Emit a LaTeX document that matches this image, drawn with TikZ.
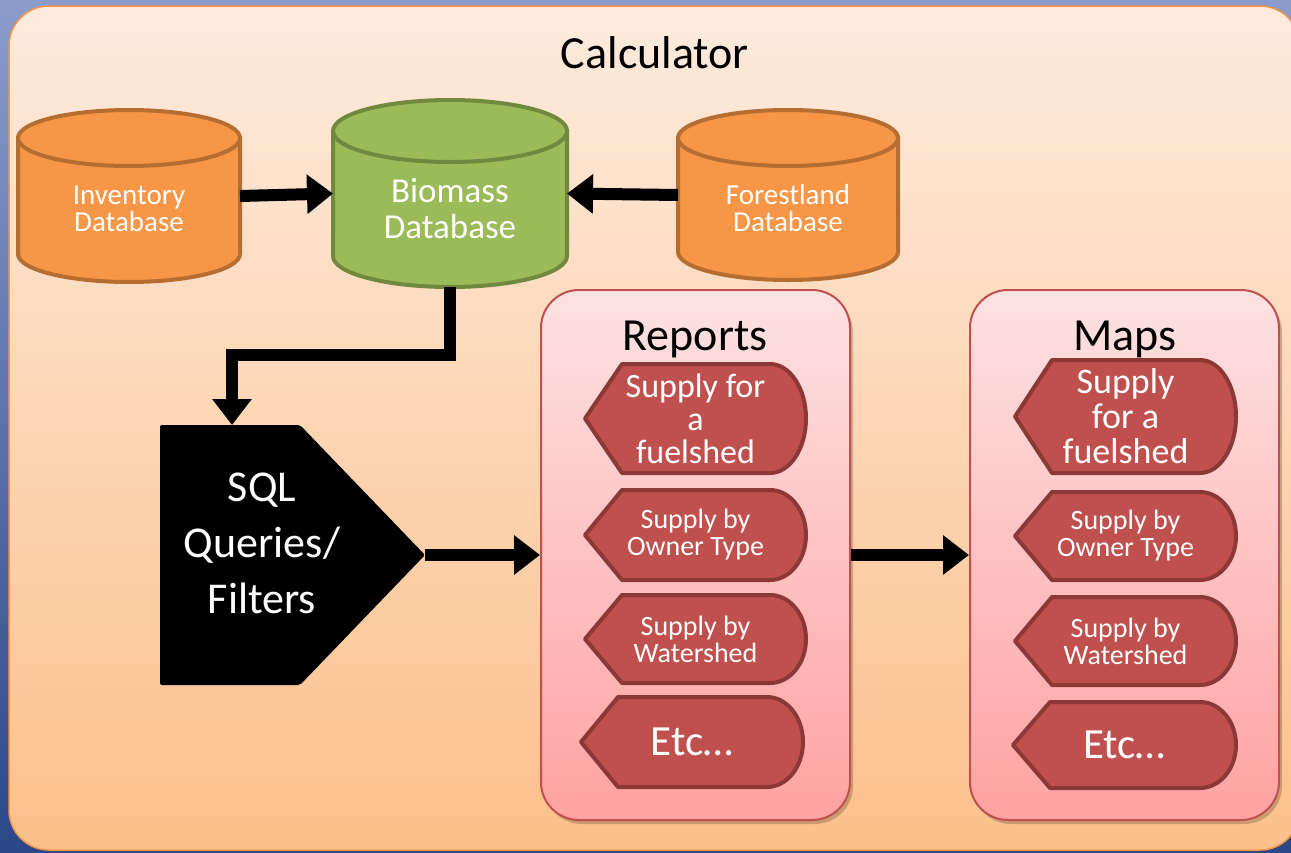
\documentclass[tikz,border=0pt]{standalone}
\usepackage{fontspec}
\setmainfont{Carlito}
\usetikzlibrary{arrows.meta,shadows}
\definecolor{bgtop}{HTML}{8B9CCC}
\definecolor{bgbot}{HTML}{2C4888}
\definecolor{paneltop}{HTML}{FDEBDD}
\definecolor{panelbot}{HTML}{FCC08B}
\definecolor{panelline}{HTML}{F79646}
\definecolor{orfill}{HTML}{F79646}
\definecolor{orline}{HTML}{B66D31}
\definecolor{grfill}{HTML}{9BBB59}
\definecolor{grline}{HTML}{71893F}
\definecolor{boxtop}{HTML}{FDE2E2}
\definecolor{boxbot}{HTML}{FFA2A2}
\definecolor{boxline}{HTML}{C0504D}
\definecolor{dispfill}{HTML}{C0504D}
\definecolor{displine}{HTML}{8C3836}
\tikzset{
  hit/.style={rectangle,draw=none,inner sep=0pt,outer sep=0pt},
  wtxt/.style={text=white,align=center,inner sep=0pt},
  btxt/.style={text=black,align=center,inner sep=0pt},
  arr/.style={draw=black,line width=12pt,line join=miter,-{Triangle[length=26pt,width=38pt]}},
  dispstyle/.style={fill=dispfill,draw=displine,line width=4pt,line join=round},
  container/.style={rectangle,rounded corners=38pt,draw=boxline,line width=2pt,top color=boxtop,bottom color=boxbot,inner sep=0pt,
    drop shadow={shadow xshift=3pt,shadow yshift=-4pt,opacity=0.2,fill=black}},
}
\newcommand\cyl[7]{%
  \path[fill=#6,draw=#7,line width=4pt] (#1,#3+#5) -- (#1,#4-#5) arc[start angle=180,end angle=0,x radius={(#2-#1)/2},y radius=#5] -- (#2,#3+#5) -- cycle;
  \path[fill=#6,draw=#7,line width=4pt] ({(#1+#2)/2},#3+#5) ellipse[x radius={(#2-#1)/2},y radius=#5];
}
\newcommand\disp[8]{%
  \path[dispstyle] (#2,{(#4+#5)/2}) -- (#2+37,#4) -- (#3-36,#4) arc[start angle=-90,end angle=90,x radius=36,y radius={(#5-#4)/2}] -- (#2+37,#5) -- cycle;
  \node[wtxt,font=\fontsize{#6}{#7}\selectfont] (#1) at ({(#2+#3)/2},{(#4+#5)/2}) {#8};
}
\begin{document}
\begin{tikzpicture}[x=1pt,y=-1pt]
\useasboundingbox (0,0) rectangle (1291,852);
\shade[top color=bgtop,bottom color=bgbot] (0,0) rectangle (1291,852);
% main panel
\node[rectangle,rounded corners=40pt,draw=panelline,line width=1.5pt,top color=paneltop,bottom color=panelbot,
  minimum width=1291pt,minimum height=844pt,inner sep=0pt] (calc) at (654.5,428) {};
\node[btxt,font=\fontsize{46}{50}\selectfont] (calct) at (655,53) {Calculator};

% cylinders
\cyl{18}{240}{110}{282}{28}{orfill}{orline}
\node[hit,minimum width=222pt,minimum height=172pt] (inv) at (129,196) {};
\node[wtxt,font=\fontsize{29}{27}\selectfont] (invt) at (129,209) {Inventory\\Database};

\cyl{333}{567}{100}{287}{31}{grfill}{grline}
\node[hit,minimum width=234pt,minimum height=187pt] (bio) at (450,193.5) {};
\node[wtxt,font=\fontsize{35}{36}\selectfont] (biot) at (450,209) {Biomass\\Database};

\cyl{678}{898}{110}{280}{28}{orfill}{orline}
\node[hit,minimum width=220pt,minimum height=170pt] (for) at (788,195) {};
\node[wtxt,font=\fontsize{29}{27}\selectfont] (fort) at (788,208) {Forestland\\Database};

% SQL shape
\node[hit,minimum width=265pt,minimum height=260pt] (sql) at (292.5,555) {};
\path[fill=black,rounded corners=2pt] (sql.north west) -- ([xshift=-125pt]sql.north east) -- (sql.east) -- ([xshift=-125pt]sql.south east) -- (sql.south west) -- cycle;
\node[wtxt,font=\fontsize{44}{56}\selectfont] (sqlt) at (262,543) {SQL\\Queries/\\Filters};

% containers
\node[container,minimum width=309pt,minimum height=530pt] (rep) at (695.5,555) {};
\node[btxt,font=\fontsize{46}{50}\selectfont] (rept) at (695,339) {Reports};
\node[container,minimum width=309pt,minimum height=530pt] (map) at (1124.5,555) {};
\node[btxt,font=\fontsize{46}{50}\selectfont] (mapt) at (1125,339) {Maps};

% report items
\disp{rep1}{585}{806}{364}{473}{34}{33}{Supply for\\a\\fuelshed}
\disp{rep2}{585}{806}{490}{580}{28}{27}{Supply by\\Owner Type}
\disp{rep3}{585}{806}{595}{683}{28}{27}{Supply by\\Watershed}
\disp{rep4}{581}{803}{697}{787}{43}{45}{Etc…}
% map items
\disp{map1}{1015}{1236}{360}{473}{36}{35}{Supply\\for a\\fuelshed}
\disp{map2}{1015}{1236}{492}{580}{28}{27}{Supply by\\Owner Type}
\disp{map3}{1015}{1236}{597}{685}{28}{27}{Supply by\\Watershed}
\disp{map4}{1013}{1236}{702}{788}{43}{45}{Etc…}

% connectors
\draw[arr] (inv.east) -- (bio.west);
\draw[arr] (for.west) -- (bio.east);
\draw[arr] (bio.south) -- ++(0,68) -| ([xshift=-60.5pt]sql.north);
\draw[arr] (sql.east) -- (rep.west);
\draw[arr] (rep.east) -- (map.west);
\end{tikzpicture}
\end{document}
